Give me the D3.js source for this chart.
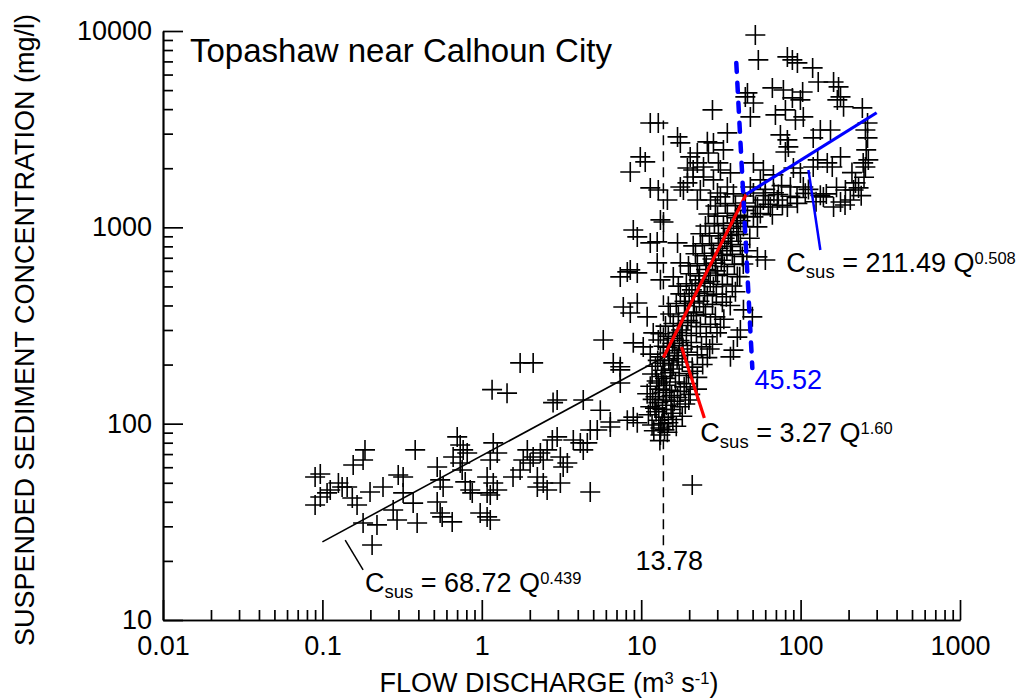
<!DOCTYPE html>
<html><head><meta charset="utf-8">
<script src="https://cdn.jsdelivr.net/npm/d3@7"></script>
<style>
body{margin:0;background:#fff;}
svg{display:block;font-family:"Liberation Sans",Arial,Helvetica,sans-serif;}
text{white-space:pre;}
</style></head><body>
<svg id="chart" width="1025" height="698"></svg>
<script>
// ---------- data ----------
const xTickValues=[0.01,0.1,1,10,100,1000];
const xTickLabels=["0.01","0.1","1","10","100","1000"];
const yTickValues=[10,100,1000,10000];
const yTickLabels=["10","100","1000","10000"];

// [flow discharge m3/s, suspended sediment concentration mg/l]
const lowFlowPoints=[[0.090,53.5],[0.097,55.4],[0.090,38.5],[0.097,42.3],[0.107,44.4],[0.112,45.9],[0.126,49.9],[0.133,47.6],[0.156,61.6],[0.185,73.5],[0.180,65.3],[0.143,47.6],[0.154,41.8],[0.165,38.5],[0.199,44.9],[0.180,31.2],[0.220,30.5],[0.205,24.1],[0.240,47.6],[0.299,54.8],[0.321,53.5],[0.321,44.4],[0.382,73.5],[0.278,36.3],[0.294,32.3],[0.393,31.2],[0.371,39.4],[0.525,60.2],[0.548,51.7],[0.572,47.6],[0.525,39.9],[0.548,35.1],[0.652,31.6],[0.564,33.5],[0.701,85.6],[0.732,77.9],[0.764,73.5],[0.661,67.7],[0.732,63.1],[0.810,70.9],[0.753,58.1],[0.787,50.5],[0.846,45.9],[0.871,44.4],[0.977,35.1],[1.08,33.5],[1.13,32.3],[1.16,149],[1.44,143],[1.74,204],[2.10,204],[1.18,79.8],[1.13,65.3],[1.25,70.9],[1.08,53.5],[1.18,49.9],[1.08,44.4],[1.25,45.9],[1.13,43.3],[1.57,53.5],[1.74,58.1],[1.82,65.3],[1.93,73.5],[2.01,63.1],[2.10,67.7],[2.33,70.9],[2.43,65.3],[2.57,73.5],[2.23,53.5],[2.43,49.9],[2.57,45.9],[2.23,47.6],[2.77,82.6],[2.97,85.6],[3.11,67.7],[3.24,60.2],[3.44,63.1],[2.80,128],[2.97,132],[4.33,132],[5.54,117],[3.75,82.6],[4.15,79.8],[4.33,73.5],[4.79,92.9],[5.30,92.9],[3.11,49.9],[4.79,44.9],[6.68,204],[7.39,195],[7.39,161],[8.18,104],[6.40,96.2],[9.45,101],[4.59,79.8]];

const transitionPoints=[[8.92,970],[9.45,894],[8.54,607],[9.45,586],[7.39,559],[11.4,833],[9.45,412],[7.72,393],[8.92,258],[10.3,246],[11.9,290],[5.78,267],[6.40,102],[8.92,108],[7.39,188],[8.54,366],[10.9,350],[12.8,267],[11.4,3402],[12.8,3402],[28.0,3964],[16.9,2888],[17.6,2692],[9.87,2284],[10.6,2154],[8.54,1915],[11.4,1588],[12.8,1550],[26.0,2725],[28.4,2692],[34.7,3026],[32.8,2480],[22.5,2393],[24.6,2030],[21.2,1960],[19.5,2007],[17.6,1606],[18.4,1550],[19.5,1684],[14.6,1379],[13.8,1065],[13.2,1091],[12.6,843],[16.9,833],[8.18,593],[12.6,659],[13.2,540],[17.6,659],[15.9,559],[20.9,48.7]];

const steepBandPoints=[[13.2,87.6],[14.6,90.5],
[11.7,98.5],[13.2,95.0],[14.8,101],[16.6,97.0],
[11.1,111],[12.4,115],[14.0,108],[15.7,113],[18.1,109],
[11.4,122],[12.8,128],[14.4,124],[16.1,130],[18.9,126],
[10.9,142],[12.3,137],[13.8,144],[15.5,139],[17.6,146],[20.3,141],
[11.4,155],[12.8,161],[14.4,157],[16.4,163],[18.6,154],
[11.7,179],[13.4,174],[15.2,182],[17.3,176],[19.8,180],[22.5,172],
[12.3,196],[14.0,203],[15.9,199],[18.1,206],[20.9,194],
[11.4,226],[13.2,219],[15.0,229],[17.1,222],[19.5,231],[22.5,224],[26.0,217],
[13.8,248],[15.7,257],[18.1,250],[20.6,259],[23.9,246],[28.0,254],
[13.2,287],[14.8,279],[16.9,291],[19.2,281],[22.2,289],[25.6,277],
[14.2,314],[15.9,324],[18.1,316],[20.6,327],[23.5,312],[27.2,321],[31.4,310],
[15.2,362],[17.1,352],[19.5,366],[22.2,355],[25.3,361],[29.2,350],
[14.8,396],[16.6,409],[18.9,399],[21.5,412],[24.6,394],[28.0,405],[32.3,415],
[17.6,458],[20.0,446],[22.8,462],[26.0,449],[29.6,457],[34.2,443],
[17.1,502],[19.2,516],[21.9,505],[24.9,520],[28.4,498],[32.3,512],[37.3,503],
[20.3,580],[23.2,566],[26.4,585],[30.1,569],[34.7,577],[40.1,562],
[19.8,636],[22.5,652],[25.6,639],[29.2,657],[33.2,632],[38.4,648],
[21.9,733],[24.9,716],[28.4,738],[32.3,720],[37.3,729],[43.1,711],
[21.2,805],[24.2,825],[27.6,809],[31.4,830],[36.3,800],[41.9,818],
[23.5,927],[26.8,905],[30.5,933],[35.2,910],[40.7,921],
[25.3,1015],[28.8,1045],[32.8,1020],[37.9,1050],[43.8,1010],
[26.4,1170],[30.1,1140],[34.7,1180],[40.1,1150],[46.4,1135],[55.9,1175],[66.5,1160],
[29.2,1285],[33.7,1320],[39.0,1290],[45.0,1330],[52.0,1280],[62.8,1310],[76.9,1295],[95.5,1325],
[37.9,1480],[43.8,1445],[50.6,1495],[60.1,1450],[72.5,1470],[86.3,1440],[107,1490],[133,1455]];

const denseCorePoints=[[12.0,92],[12.9,104],[13.6,118],[14.3,132],[15.1,148],[12.5,165],[13.7,187],[14.9,210],[16.2,236],[17.4,265],[11.8,133],[13.0,150],[14.1,170],[15.6,190],[16.8,214],[18.3,240],[12.2,120],[13.5,100],[15.4,118],[16.9,136],[19.2,160],[21.0,185],[12.7,210],[14.6,245],[16.0,272],[17.8,300],[19.6,335],[21.3,370],[23.2,420],[25.0,470],[27.1,530],[29.4,600],[31.8,680],[34.5,760],[37.0,850],[39.8,950],[42.0,1080],[44.5,1220],[13.1,82],[14.0,93],[15.8,105],[17.5,122],[19.9,132],[22.4,150],[24.3,200],[26.9,240],[29.9,290],[33.0,340],[36.2,400],[39.0,470],[41.5,560],[43.7,650],[46.0,760],[48.0,880],[18.7,420],[20.8,480],[23.0,540],[25.5,610],[28.0,690],[30.6,780],[33.4,880],[36.5,990],[39.5,1120]];

const highFlowPoints=[[46.4,4838],[50.6,4300],[48.4,3651],[50.6,2129],[53.6,1270],[50.6,1130],[53.6,1005],[52.0,9550],[54.3,7125],[82.6,7381],[88.8,7125],[95.5,6879],[119,6486],[129,5503],[161,5503],[173,5190],[178,4617],[170,4457],[186,4110],[66.5,5130],[78.0,5010],[88.8,4563],[99.7,4457],[103,4894],[45.0,4617],[69.5,3738],[80.3,3964],[92.8,3524],[104,3651],[244,4058],[263,3402],[255,3134],[263,2854],[255,2030],[247,2129],[74.7,2956],[82.6,2788],[83.8,2568],[80.3,2420],[120,2854],[133,3134],[154,3134],[178,2284],[147,2129],[158,2030],[128,2205],[120,2030],[221,1684],[215,1550],[205,1379],[178,1347],[161,1270],[90.1,2007],[99.7,1893],[104,1606],[86.3,1606],[67.5,1849],[58.4,1960],[55.9,1744],[48.4,1606],[71.5,1379],[82.6,1270],[58.4,1379],[64.6,1270],[20.3,2284],[22.5,2129],[21.2,1806],[24.6,1806],[26.4,2393],[30.5,2129],[31.4,1960],[28.4,1744],[30.1,1497],[31.4,1429],[23.5,1550],[22.5,1379],[27.2,1379],[34.7,1606],[36.3,1893],[53.6,707],[60.1,682],[43.8,380],[49.8,350],[41.9,300],[40.1,276],[37.9,237],[36.3,219],[139,1429],[191,1550],[266,2205],[231,1588],[258,2480],[60,1560],[68,1500],[76,1630],[95,1420],[112,1560],[125,1350],[145,1480],[168,1600],[190,1300],[240,1450],[250,1800],[210,1900]];

// rating-curve segments: C = a * Q^b
const fitA=[68.72,3.27,211.49];
const fitB=[0.439,1.60,0.508];
const fitFrom=[0.1,13.78,45.52];
const fitTo=[13.78,45.52,300];
const fitColors=["#000000","#ff0000","#0000ff"];
const fitLabels=["68.72","3.27","211.49"];
const fitExps=["0.439","1.60","0.508"];

// break-point markers [Q,C] endpoints
const break1=[[13.78,24],[13.78,3500]];
const break2=[[39.5,6880],[49.8,192]];
// leader lines from each equation to its segment
const leaders=[[[0.139,25.5],[0.180,18.0]],[[17.9,246],[24.9,107]],[[112,1960],[133,767]]];
// equation label anchors [Q,C]
const eqAnchors=[[0.185,13.9],[23.5,80.7],[81.4,593]];

// ---------- chart ----------
const FS=27;
const svg=d3.select("#chart");
const x=d3.scaleLog().domain([0.01,1000]).range([163,960]);
const y=d3.scaleLog().domain([10,10000]).range([620,31]);

const minorX=[],minorY=[];
[0.01,0.1,1,10,100].forEach(d=>{for(let k=2;k<=9;k++)minorX.push(d*k);});
[10,100,1000].forEach(d=>{for(let k=2;k<=9;k++)minorY.push(d*k);});

function styleAxis(g){
  g.selectAll("path,line").attr("stroke","#000").attr("stroke-width",1.7);
  g.selectAll("text").attr("font-size",FS).attr("fill","#000").attr("font-family","Liberation Sans, Arial, sans-serif");
}
const gxMinor=svg.append("g").attr("transform","translate(0,620)")
  .call(d3.axisBottom(x).tickValues(minorX).tickSize(-10).tickSizeOuter(0).tickFormat(""));
styleAxis(gxMinor);
const gx=svg.append("g").attr("transform","translate(0,620)")
  .call(d3.axisBottom(x).tickValues(xTickValues).tickSize(-20).tickSizeOuter(0).tickPadding(16)
  .tickFormat((d,i)=>xTickLabels[i]));
styleAxis(gx);
const gyMinor=svg.append("g").attr("transform","translate(163,0)")
  .call(d3.axisLeft(y).tickValues(minorY).tickSize(-10).tickSizeOuter(0).tickFormat(""));
styleAxis(gyMinor);
const gy=svg.append("g").attr("transform","translate(163,0)")
  .call(d3.axisLeft(y).tickValues(yTickValues).tickSize(-20).tickSizeOuter(0).tickPadding(11)
  .tickFormat((d,i)=>yTickLabels[i]));
styleAxis(gy);

// points
const allPoints=[].concat(lowFlowPoints,transitionPoints,steepBandPoints,denseCorePoints,highFlowPoints);
svg.append("g").selectAll("path").data(allPoints).join("path")
  .attr("transform",d=>`translate(${x(d[0])},${y(d[1])})`)
  .attr("d","M-10,0H10M0,-10V10")
  .attr("stroke","#000").attr("stroke-width",1.6).attr("fill","none");

const line=d3.line().x(d=>x(d[0])).y(d=>y(d[1]));

// break lines
svg.append("path").attr("d",line(break1)).attr("stroke","#000").attr("stroke-width",1.5)
  .attr("stroke-dasharray","10,6").attr("fill","none");

// fits
fitA.forEach((a,i)=>{
  const pts=[fitFrom[i],fitTo[i]].map(q=>[q,a*Math.pow(q,fitB[i])]);
  svg.append("path").attr("d",line(pts)).attr("stroke",fitColors[i])
    .attr("stroke-width",i===0?1.6:3.2).attr("fill","none");
});
svg.append("path").attr("d",line(break2)).attr("stroke","#0000ff").attr("stroke-width",4.5)
  .attr("stroke-linecap","round").attr("stroke-dasharray","9,11").attr("fill","none");

// leaders
leaders.forEach((l,i)=>{
  svg.append("path").attr("d",line(l)).attr("stroke",fitColors[i])
    .attr("stroke-width",i===0?1.5:(i===1?3.2:2.5)).attr("fill","none");
});

// equation labels
eqAnchors.forEach((p,i)=>{
  const t=svg.append("text").attr("x",x(p[0])).attr("y",y(p[1])).attr("font-size",FS).attr("fill","#000");
  t.append("tspan").text("C");
  t.append("tspan").attr("font-size",18.5).attr("dy",6).text("sus");
  t.append("tspan").attr("dy",-6).text(" = "+fitLabels[i]+" Q");
  t.append("tspan").attr("font-size",16.5).attr("dy",-8).text(fitExps[i]);
});

// break labels
svg.append("text").attr("x",x(15.0)).attr("y",y(18.0)).attr("text-anchor","middle")
  .attr("font-size",FS).attr("fill","#000").text("13.78");
svg.append("text").attr("x",x(51.3)).attr("y",y(150)).attr("font-size",FS)
  .attr("fill","#0000ff").text("45.52");

// title
svg.append("text").attr("x",190).attr("y",62).attr("font-size",33).attr("fill","#000")
  .text("Topashaw near Calhoun City");

// axis titles
const xt=svg.append("text").attr("x",549).attr("y",692).attr("text-anchor","middle")
  .attr("font-size",FS).attr("fill","#000");
xt.append("tspan").text("FLOW DISCHARGE (m");
xt.append("tspan").attr("font-size",16.5).attr("dy",-8).text("3");
xt.append("tspan").attr("dy",8).text(" s");
xt.append("tspan").attr("font-size",16.5).attr("dy",-8).text("-1");
xt.append("tspan").attr("dy",8).text(")");

svg.append("text").attr("transform","translate(34,330) rotate(-90)").attr("text-anchor","middle")
  .attr("font-size",FS).attr("fill","#000").text("SUSPENDED SEDIMENT CONCENTRATION (mg/l)");
</script>
</body></html>
